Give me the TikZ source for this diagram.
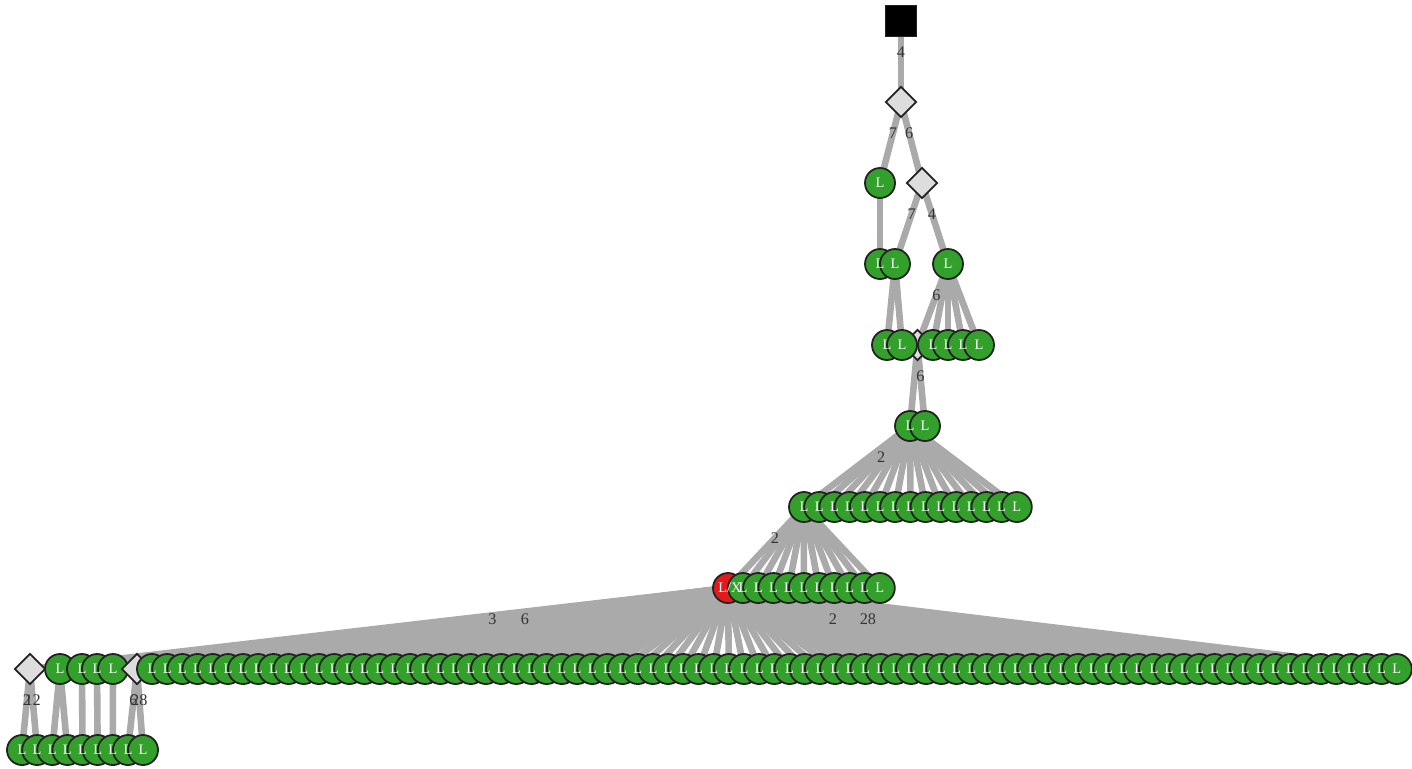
\documentclass[tikz,border=0pt]{standalone}
\usepackage{fontspec}
\setmainfont{Liberation Serif}
\usetikzlibrary{shapes.geometric}
\pgfdeclarelayer{bg}
\pgfdeclarelayer{fg}
\pgfsetlayers{bg,main,fg}
\definecolor{edgegray}{HTML}{AAAAAA}
\definecolor{lgreen}{HTML}{33A02C}
\definecolor{lred}{HTML}{E31A1C}
\definecolor{dfill}{HTML}{DDDDDD}
\definecolor{bord}{HTML}{222222}
\definecolor{labc}{HTML}{333333}
\tikzset{
  lc/.style={circle,draw=bord,line width=0.9pt,fill=lgreen,minimum size=15pt,inner sep=0pt},
  rc/.style={lc,fill=lred},
  dm/.style={diamond,draw=bord,line width=0.9pt,fill=dfill,minimum size=15.5pt,inner sep=0pt},
  sq/.style={rectangle,draw=bord,line width=0.9pt,fill=black,minimum size=15.5pt,inner sep=0pt},
  ltext/.style={text=white,font=\fontsize{7.2}{8}\selectfont,inner sep=0pt},
  elab/.style={text=labc,font=\fontsize{8.1}{9}\selectfont,inner sep=0pt},
  edge/.style={draw=edgegray,line width=3.3pt}
}
\newcommand\Lnd[3]{\node[lc] (#1) at (#2,#3) {};%
  \begin{pgfonlayer}{fg}\node[ltext] at (#2,#3) {L};\end{pgfonlayer}}
\newcommand\Edg[2]{\begin{pgfonlayer}{bg}\draw[edge] (#1.center) -- (#2.center);\end{pgfonlayer}}
\newcommand\Elab[3]{\begin{pgfonlayer}{fg}\path (#1.center) -- (#2.center) node[elab,pos=0.383] {#3};\end{pgfonlayer}}
\begin{document}
\begin{tikzpicture}[x=0.5pt,y=-0.5pt]
\useasboundingbox (0,0) rectangle (1412,768);
% level 0-3
\node[sq] (root) at (901,21) {};
\node[dm] (d1) at (901,102) {};
\Lnd{a2}{880}{183}
\node[dm] (d2) at (922,183) {};
\Lnd{a3}{880}{264}
\Lnd{b3}{895}{264}
\Lnd{c3}{948}{264}
% level 4
\node[dm] (d4) at (917.5,345) {};
\Lnd{a4}{887}{345}
\Lnd{b4}{902}{345}
\Lnd{c4}{933}{345}
\Lnd{e4}{948}{345}
\Lnd{f4}{963}{345}
\Lnd{g4}{979}{345}
% level 5
\Lnd{a5}{910}{426}
\Lnd{b5}{925}{426}
% level 6
\foreach \k in {0,...,14}{\pgfmathsetmacro\xx{804+15.2*\k}\Lnd{s\k}{\xx}{507}}
% level 7
\node[rc] (r7) at (728,588) {};
\begin{pgfonlayer}{fg}\node[ltext] at (730,588) {L/X};\end{pgfonlayer}
\foreach \k in {0,...,9}{\pgfmathsetmacro\xx{743+15.2*\k}\Lnd{h\k}{\xx}{588}}
% level 8
\node[dm] (m0) at (30,669) {};
\Lnd{m1}{60}{669}
\Lnd{m2}{82}{669}
\Lnd{m3}{97}{669}
\Lnd{m4}{113}{669}
\node[dm] (m5) at (137,669) {};
\foreach \k in {0,...,82}{\pgfmathsetmacro\xx{152+15.18*\k}\Lnd{q\k}{\xx}{669}}
% level 9
\foreach \k in {0,...,8}{\pgfmathsetmacro\xx{22+15.13*\k}\Lnd{n\k}{\xx}{750}}
% edges
\Edg{root}{d1}\Elab{root}{d1}{4}
\Edg{d1}{a2}\Elab{d1}{a2}{7}
\Edg{d1}{d2}\Elab{d1}{d2}{6}
\Edg{a2}{a3}
\Edg{d2}{b3}\Elab{d2}{b3}{7}
\Edg{d2}{c3}\Elab{d2}{c3}{4}
\Edg{b3}{a4}\Edg{b3}{b4}
\Edg{c3}{d4}\Elab{c3}{d4}{6}
\foreach \n in {c4,e4,f4,g4}{\Edg{c3}{\n}}
\Edg{d4}{a5}
\Edg{d4}{b5}\Elab{d4}{b5}{6}
\foreach \k in {0,...,14}{\Edg{a5}{s\k}}
\Elab{a5}{s2}{2}
\Edg{s0}{r7}\Elab{s0}{r7}{2}
\foreach \k in {0,...,9}{\Edg{s0}{h\k}}
\foreach \n in {m0,m1,m2,m3,m4,m5}{\Edg{r7}{\n}}
\foreach \k in {0,...,82}{\Edg{r7}{q\k}}
\Elab{r7}{m4}{3}
\Elab{r7}{q3}{6}
\Elab{r7}{q56}{2}
\Elab{r7}{q62}{28}
\Edg{m0}{n0}\Elab{m0}{n0}{2}
\Edg{m0}{n1}\Elab{m0}{n1}{12}
\Edg{m1}{n2}\Edg{m1}{n3}
\Edg{m2}{n4}\Edg{m3}{n5}\Edg{m4}{n6}
\Edg{m5}{n7}\Elab{m5}{n7}{6}
\Edg{m5}{n8}\Elab{m5}{n8}{28}
\end{tikzpicture}
\end{document}
